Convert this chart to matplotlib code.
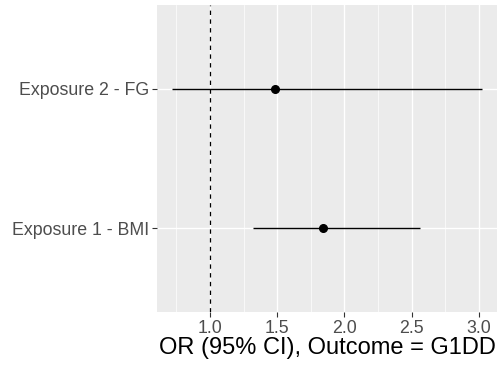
import matplotlib
matplotlib.use("Agg")
import matplotlib.pyplot as plt
from matplotlib.ticker import MultipleLocator

# data
labels = ["Exposure 1 - BMI", "Exposure 2 - FG"]
or_est = [1.84, 1.48]
ci_low = [1.32, 0.72]
ci_high = [2.56, 3.02]
xticks = [1.0, 1.5, 2.0, 2.5, 3.0]

plt.rcParams['font.family'] = ['Liberation Sans', 'DejaVu Sans']

fig = plt.figure(figsize=(5.02, 3.7), dpi=100)
ax = fig.add_axes([157/502, 1 - 312/370, 340/502, 307/370])
ax.set_facecolor('#EBEBEB')

ypos = list(range(1, len(labels) + 1))
ax.hlines(ypos, ci_low, ci_high, color='black', lw=1.0, zorder=3)
ax.plot(or_est, ypos, 'o', color='black', ms=5.5, zorder=4)
ax.axvline(1.0, color='black', lw=0.9, ls=(0, (3.5, 3.5)), zorder=2)

lo, hi = min(ci_low), max(ci_high)
pad = (hi - lo) * 0.05
ax.set_xlim(lo - pad, hi + pad)
ax.set_ylim(0.4, len(labels) + 0.6)

ax.set_xticks(xticks)
ax.set_xticklabels([f"{v:.1f}" for v in xticks])
ax.xaxis.set_minor_locator(MultipleLocator(0.25))
ax.set_yticks(ypos)
ax.set_yticklabels(labels)

ax.grid(which='major', color='white', lw=1.0, zorder=0)
ax.grid(which='minor', axis='x', color='white', lw=0.5, zorder=0)
ax.set_axisbelow(True)
for s in ax.spines.values():
    s.set_visible(False)

ax.tick_params(which='major', length=3.5, width=0.8, color='#333333',
               labelsize=12.8, labelcolor='#4D4D4D', pad=2)
ax.tick_params(which='minor', length=0)

ax.set_xlabel("OR (95% CI), Outcome = G1DD", fontsize=17, color='black', labelpad=0)

fig.savefig("out.png", dpi=100)
